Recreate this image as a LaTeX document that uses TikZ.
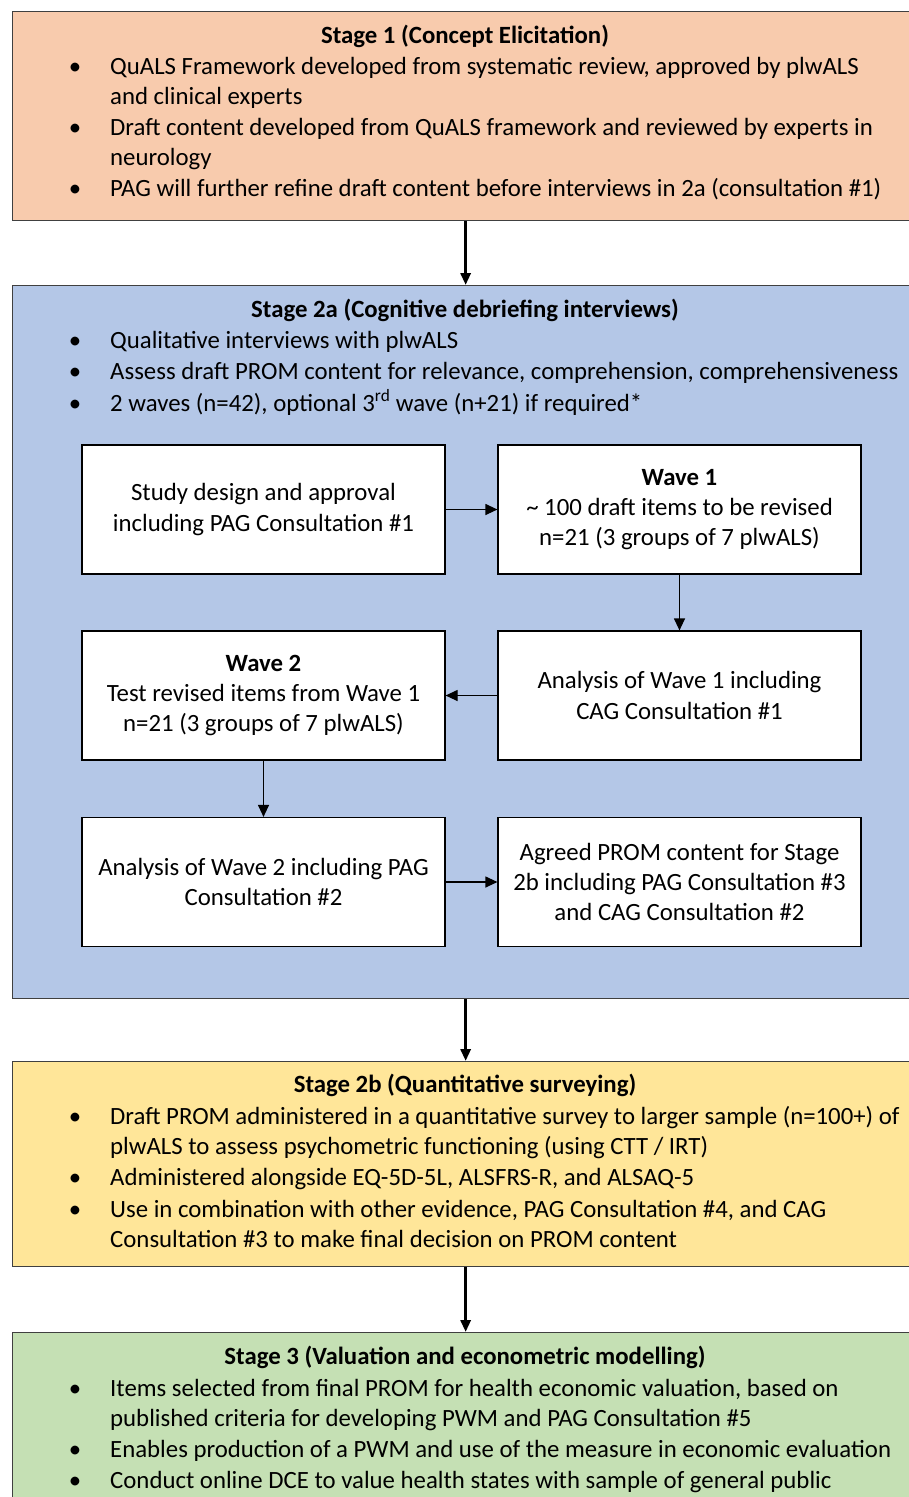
\documentclass[tikz,border=0pt]{standalone}
\usepackage{fontspec}
\setmainfont{Carlito}
\usepackage{tikz}
\usetikzlibrary{positioning,calc,arrows.meta}

\definecolor{peach}{HTML}{F8CBAD}
\definecolor{paleblue}{HTML}{B4C7E7}
\definecolor{paleyellow}{HTML}{FFE699}
\definecolor{palegreen}{HTML}{C5E0B4}
\definecolor{rim}{HTML}{404040}

% paragraph whose baseline is its first line
\newcommand{\stagelines}[1]{\begin{tabular}[t]{@{}l@{}}#1\end{tabular}}

\tikzset{
    every node/.style={font=\fontsize{24.8}{30.3}\selectfont},
    stagebox/.style={draw=rim, line width=1.3pt, minimum width=906pt, inner sep=0pt, anchor=north west},
    stagetitle/.style={anchor=base, font=\fontsize{24.8}{30.3}\selectfont\bfseries},
    bulletline/.style={anchor=base west, inner sep=0pt},
    dot/.style={anchor=base, inner sep=0pt},
    card/.style={draw=black, fill=white, line width=1.2pt, minimum width=363pt, minimum height=129pt, align=center, inner sep=2pt},
    bigarrow/.style={line width=3pt, -{Triangle[length=12pt,width=10pt]}},
    smallarrow/.style={line width=1.2pt, -{Triangle[length=12pt,width=11pt]}}
}

\begin{document}
\begin{tikzpicture}[x=1pt, y=-1pt]
    \useasboundingbox (0,0) rectangle (909,1497);

    % Stage 1
    \node [stagebox, fill=peach, minimum height=209pt] (s1) at (12,11) {};
    \node [stagetitle] (s1t) at (465,43) {Stage 1 (Concept Elicitation)};
    \foreach \y/\txt [count=\i] in {74/{QuALS Framework developed from systematic review, approved by plwALS\\and clinical experts}, 135/{Draft content developed from QuALS framework and reviewed by experts in\\neurology}, 196/{PAG will further refine draft content before interviews in 2a (consultation \#1)}} {
        \node [dot] (s1d\i) at (75,\y) {\textbullet}; \node [bulletline] (s1b\i) at (110,\y) {\stagelines{\txt}};
    }

    % Stage 2a
    \node [stagebox, fill=paleblue, minimum height=713pt] (s2a) at (12,285) {};
    \node [stagetitle] (s2at) at (465,317) {Stage 2a (Cognitive debriefing interviews)};
    \foreach \y/\txt [count=\i] in {348/{Qualitative interviews with plwALS}, 379/{Assess draft PROM content for relevance, comprehension, comprehensiveness}, 411/{2 waves (n=42), optional 3\textsuperscript{rd} wave (n+21) if required*}} {
        \node [dot] (s2ad\i) at (75,\y) {\textbullet}; \node [bulletline] (s2ab\i) at (110,\y) {\stagelines{\txt}};
    }

    % Inner flow of 2a
    \node [card] (design) at (263.5,509.5) {Study design and approval\\including PAG Consultation \#1};
    \node [card] (wave1) at (679.5,509.5) {\textbf{Wave 1}\\\textasciitilde{} 100 draft items to be revised\\n=21 (3 groups of 7 plwALS)};
    \node [card] (anw1) at (679.5,695.5) {Analysis of Wave 1 including\\CAG Consultation \#1};
    \node [card] (wave2) at (263.5,695.5) {\textbf{Wave 2}\\Test revised items from Wave 1\\n=21 (3 groups of 7 plwALS)};
    \node [card] (anw2) at (263.5,882) {Analysis of Wave 2 including PAG\\Consultation \#2};
    \node [card] (agreed) at (679.5,882) {Agreed PROM content for Stage\\2b including PAG Consultation \#3\\and CAG Consultation \#2};

    \draw [smallarrow] (design) -- (wave1);
    \draw [smallarrow] (wave1) -- (anw1);
    \draw [smallarrow] (anw1) -- (wave2);
    \draw [smallarrow] (wave2) -- (anw2);
    \draw [smallarrow] (anw2) -- (agreed);

    % Stage 2b
    \node [stagebox, fill=paleyellow, minimum height=205pt] (s2b) at (12,1061) {};
    \node [stagetitle] (s2bt) at (465,1092) {Stage 2b (Quantitative surveying)};
    \foreach \y/\txt [count=\i] in {1124/{Draft PROM administered in a quantitative survey to larger sample (n=100+) of\\plwALS to assess psychometric functioning (using CTT / IRT)}, 1185/{Administered alongside EQ-5D-5L, ALSFRS-R, and ALSAQ-5}, 1217/{Use in combination with other evidence, PAG Consultation \#4, and CAG\\Consultation \#3 to make final decision on PROM content}} {
        \node [dot] (s2bd\i) at (75,\y) {\textbullet}; \node [bulletline] (s2bb\i) at (110,\y) {\stagelines{\txt}};
    }

    % Stage 3
    \node [stagebox, fill=palegreen, minimum height=200pt] (s3) at (12,1332) {};
    \node [stagetitle] (s3t) at (465,1364) {Stage 3 (Valuation and econometric modelling)};
    \foreach \y/\txt [count=\i] in {1396/{Items selected from final PROM for health economic valuation, based on\\published criteria for developing PWM and PAG Consultation \#5}, 1457/{Enables production of a PWM and use of the measure in economic evaluation}, 1488/{Conduct online DCE to value health states with sample of general public}} {
        \node [dot] (s3d\i) at (75,\y) {\textbullet}; \node [bulletline] (s3b\i) at (110,\y) {\stagelines{\txt}};
    }

    % Stage links
    \draw [bigarrow] (s1) -- (s2a);
    \draw [bigarrow] (s2a) -- (s2b);
    \draw [bigarrow] (s2b) -- (s3);
\end{tikzpicture}
\end{document}
